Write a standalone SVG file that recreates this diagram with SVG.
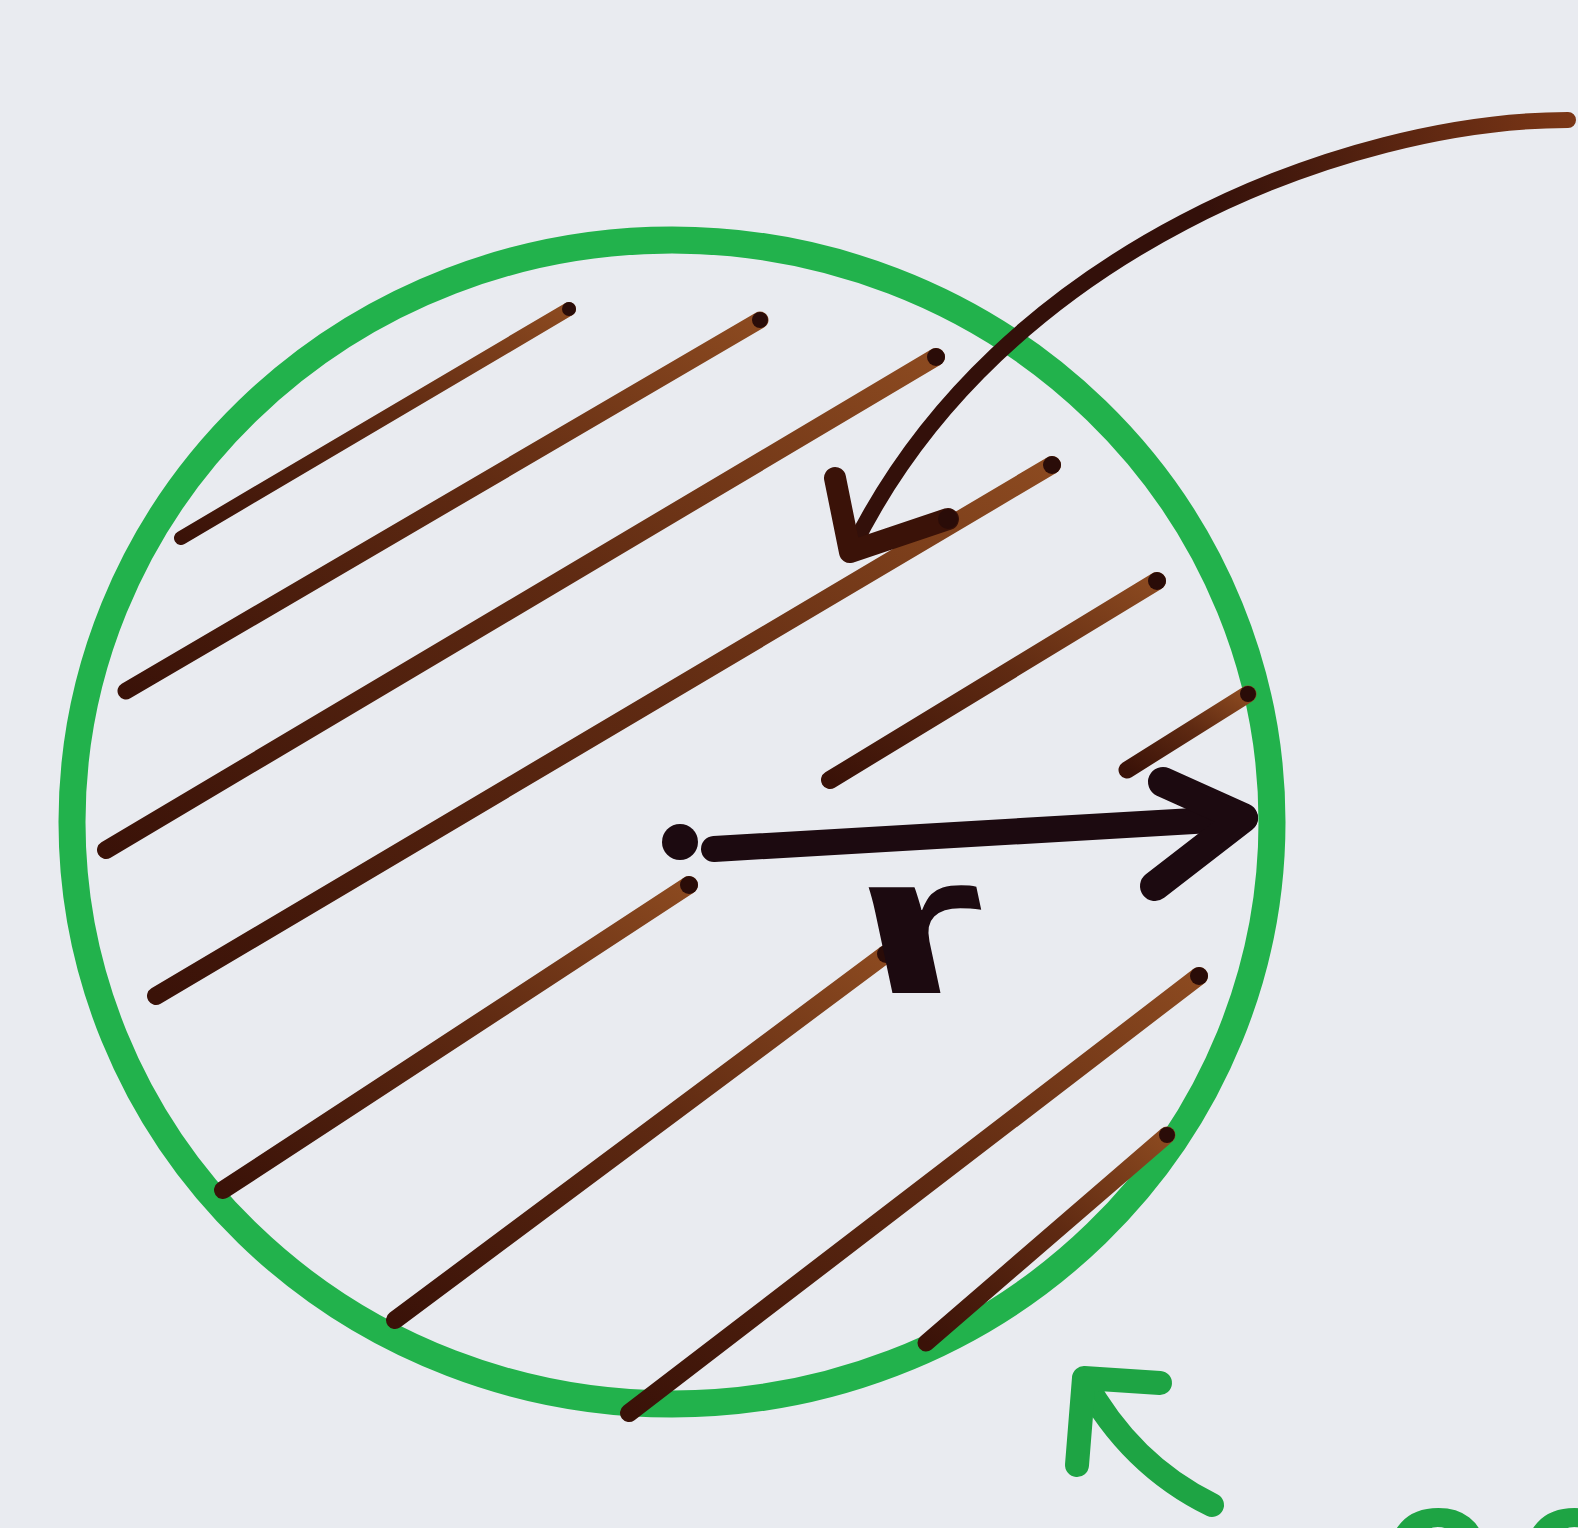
<svg xmlns="http://www.w3.org/2000/svg" width="1578" height="1528" viewBox="0 0 1578 1528">
<defs>
<linearGradient id="hb" x1="0" y1="1" x2="1" y2="0">
<stop offset="0" stop-color="#3a1208"/>
<stop offset="0.55" stop-color="#5f2a12"/>
<stop offset="1" stop-color="#8c4a20"/>
</linearGradient>
<linearGradient id="ca" gradientUnits="userSpaceOnUse" x1="1568" y1="118" x2="1200" y2="210">
<stop offset="0" stop-color="#7a3616"/>
<stop offset="1" stop-color="#33100a"/>
</linearGradient>
</defs>
<style>
.hatch{fill:none;stroke:url(#hb);stroke-linecap:round}
.tip{fill:#2a0c08}
.ink{fill:none;stroke:#1c0a10;stroke-linecap:round;stroke-linejoin:round}
.grn{fill:none;stroke:#1ea444;stroke-linecap:round;stroke-linejoin:round}
</style>
<rect width="1578" height="1528" fill="#e9ebf0"/>
<g id="circle">
<ellipse cx="672" cy="822" rx="600" ry="582" fill="none" stroke="#22b24c" stroke-width="27"/>
</g>
<g id="hatching">
<path class="hatch" stroke-width="14" d="M181,538 L569,309"/>
<path class="hatch" stroke-width="17" d="M126,691 L760,320"/>
<path class="hatch" stroke-width="18" d="M106,850 L936,357"/>
<path class="hatch" stroke-width="18" d="M156,996 L1052,465"/>
<path class="hatch" stroke-width="18" d="M830,780 L1157,581"/>
<path class="hatch" stroke-width="17" d="M1127,770 L1248,694"/>
<path class="hatch" stroke-width="18" d="M223,1190 L689,885"/>
<path class="hatch" stroke-width="18" d="M395,1320 L886,954"/>
<path class="hatch" stroke-width="18" d="M629,1413 L1199,976"/>
<path class="hatch" stroke-width="17" d="M926,1343 L1167,1135"/>
<circle class="tip" cx="569" cy="309" r="7"/>
<circle class="tip" cx="760" cy="320" r="8"/>
<circle class="tip" cx="936" cy="357" r="9"/>
<circle class="tip" cx="1052" cy="465" r="9"/>
<circle class="tip" cx="1157" cy="581" r="9"/>
<circle class="tip" cx="1248" cy="694" r="8"/>
<circle class="tip" cx="689" cy="885" r="9"/>
<circle class="tip" cx="886" cy="954" r="9"/>
<circle class="tip" cx="1199" cy="976" r="9"/>
<circle class="tip" cx="1167" cy="1135" r="8"/>
</g>
<g id="connectors">
<g id="curved-arrow">
<path d="M1568,120 C1350,120 1000,250 853,547" fill="none" stroke="url(#ca)" stroke-width="16" stroke-linecap="round"/>
<path d="M835,478 L850,552 L948,519" fill="none" stroke="#3a1208" stroke-width="22" stroke-linecap="round" stroke-linejoin="round"/>
<circle class="tip" cx="948" cy="519" r="10"/>
</g>
<g id="radius-arrow">
<circle cx="680" cy="842" r="18" fill="#1c0a10"/>
<path class="ink" stroke-width="26" d="M714,849 L1245,818"/>
<path class="ink" stroke-width="30" d="M1163,782 L1243,818 L1155,886"/>
</g>
<g id="green-arrow">
<path class="grn" stroke-width="24" d="M1212,1505 Q1130,1465 1084,1380"/>
<path class="grn" stroke-width="24" d="M1160,1383 L1084,1378 L1077,1465"/>
</g>
</g>
<g id="labels">
<text transform="translate(868,993) skewX(12) scale(1.75,1)" x="0" y="0" font-family="Liberation Sans, Arial, sans-serif" font-size="200" font-weight="bold" fill="#1c0a10">r</text>
<text x="1380" y="1616" letter-spacing="25" font-family="Liberation Sans, Arial, sans-serif" font-size="200" font-weight="bold" fill="#1ea444">cc</text>
</g>
</svg>
